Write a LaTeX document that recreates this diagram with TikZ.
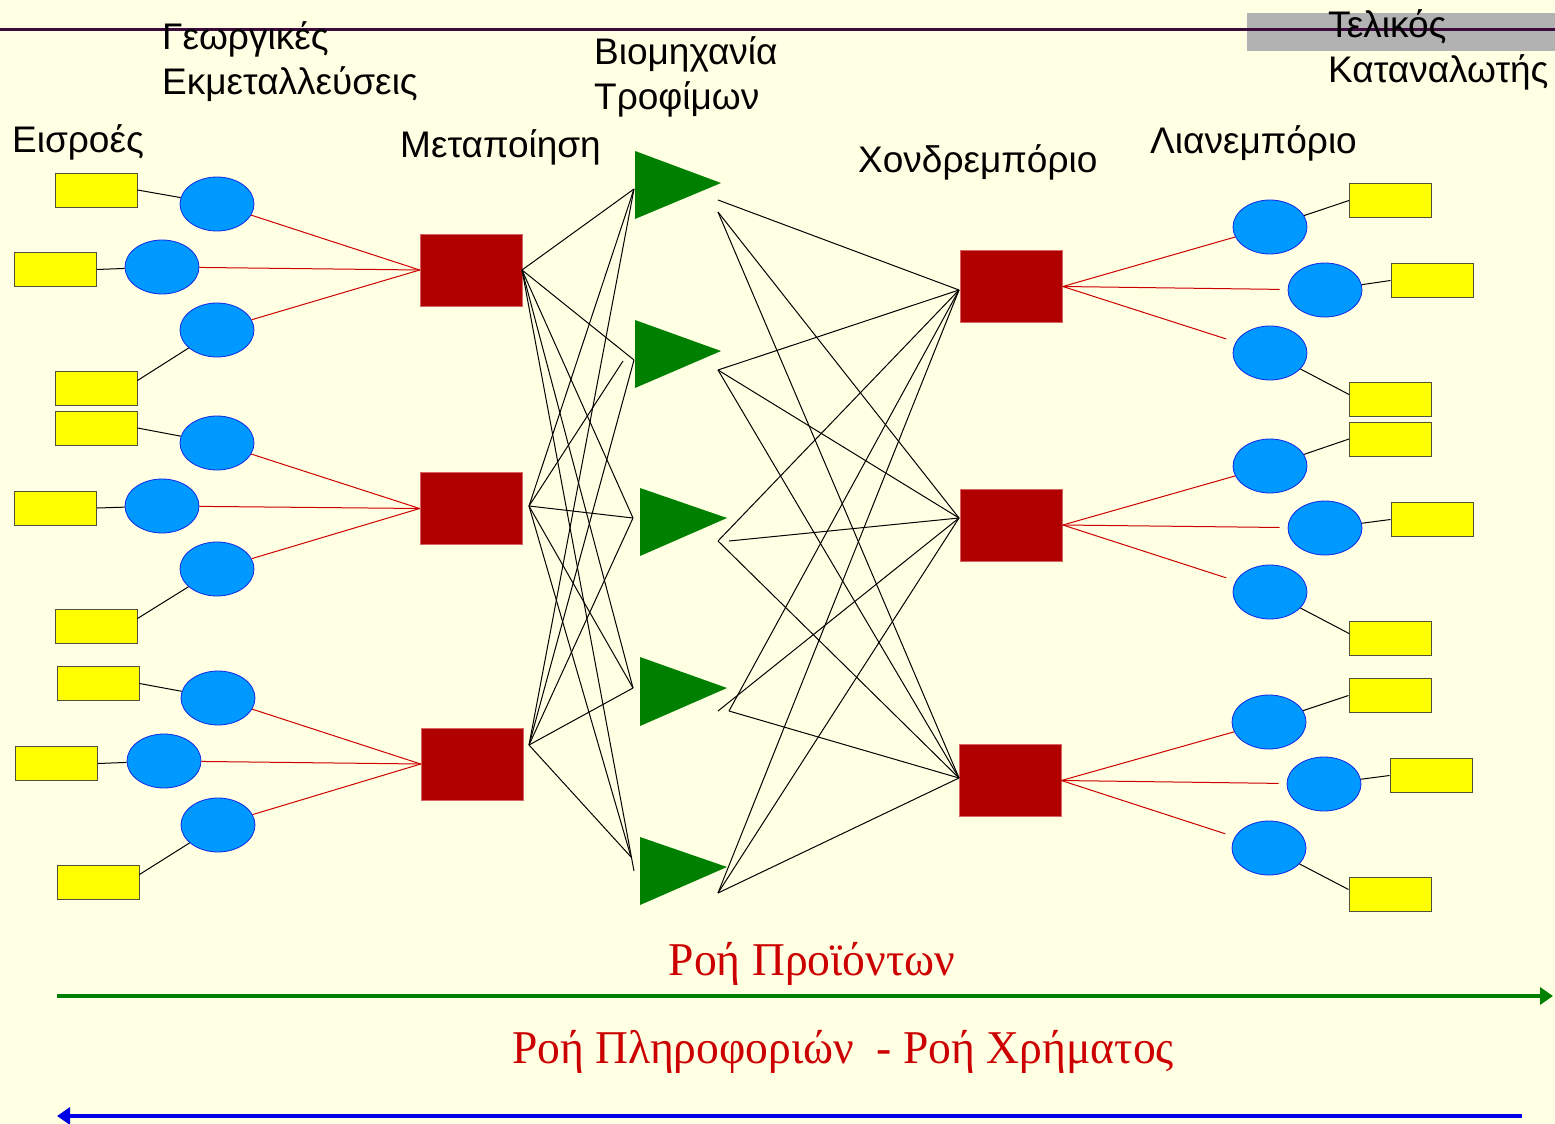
\documentclass[tikz,border=0pt]{standalone}
\usepackage{fontspec}
\setmainfont{Liberation Sans}
\newfontfamily\flowfont{Liberation Serif}
\usetikzlibrary{shapes.geometric,arrows.meta}

\definecolor{paper}{RGB}{255,255,227}
\definecolor{boxyellow}{RGB}{255,255,0}
\definecolor{boxedge}{RGB}{80,80,60}
\definecolor{orb}{RGB}{0,153,255}
\definecolor{orbedge}{RGB}{20,40,230}
\definecolor{plant}{RGB}{176,0,0}
\definecolor{plantedge}{RGB}{214,100,100}
\definecolor{tri}{RGB}{0,128,0}
\definecolor{redline}{RGB}{204,0,0}
\definecolor{rulecol}{RGB}{60,10,60}
\definecolor{tag}{RGB}{178,178,178}
\definecolor{flowred}{RGB}{204,0,0}
\definecolor{flowgreen}{RGB}{0,128,0}
\definecolor{flowblue}{RGB}{0,0,230}

\tikzset{
  farm/.style={rectangle, draw=boxedge, fill=boxyellow, line width=1pt,
    minimum width=82pt, minimum height=34pt, inner sep=0pt},
  hub/.style={ellipse, draw=orbedge, fill=orb, line width=0.8pt,
    minimum width=74pt, minimum height=54pt, inner sep=0pt},
  plantbox/.style={rectangle, fill=plant, draw=plantedge, line width=0.6pt,
    minimum width=102pt, minimum height=72pt, inner sep=0pt},
  greentri/.style={fill=tri},
  feed/.style={draw=redline, line width=1pt},
  link/.style={draw=black, line width=1pt},
  stage/.style={font=\fontsize{37}{41}\selectfont, anchor=base west, inner sep=0pt},
  flowtext/.style={font=\flowfont\fontsize{47}{50}\selectfont, text=flowred,
    anchor=base, inner sep=0pt, xscale=0.97},
  flowline/.style={line width=4pt},
}

\begin{document}
\begin{tikzpicture}[x=1pt, y=-1pt]
% page background
\fill[paper] (0,0) rectangle (1555,1124);
\useasboundingbox (0,0) rectangle (1555,1124);

% title strip
\fill[tag] (1247,13) rectangle (1555,51);
\draw[rulecol, line width=3pt] (0,30) -- (1555,30);

% stage headings
\node[stage] (h1a) at (162,50) {Γεωργικές};
\node[stage] (h1b) at (162,94) {Εκμεταλλεύσεις};
\node[stage] (h0)  at (12,152) {Εισροές};
\node[stage] (h2)  at (400,157) {Μεταποίηση};
\node[stage] (h3a) at (594,64) {Βιομηχανία};
\node[stage] (h3b) at (594,110) {Τροφίμων};
\node[stage] (h4)  at (858,172) {Χονδρεμπόριο};
\node[stage] (h5)  at (1150,153) {Λιανεμπόριο};
\node[stage] (h6a) at (1328,38) {Τελικός};
\node[stage] (h6b) at (1328,82) {Καταναλωτής};

% ---------- inputs, farms and processing plants ----------
\node[plantbox] (p1) at (471,270) {};
\node[plantbox] (p2) at (471,508.5) {};
\node[plantbox] (p3) at (472,764) {};

\node[farm] (a1) at (96,190) {};
\node[hub]  (e1) at (217,204) {};
\node[farm] (a2) at (55.5,269.5) {};
\node[hub]  (e2) at (162,267) {};
\node[hub]  (e3) at (217,330) {};
\node[farm] (a3) at (96,388.5) {};

\node[farm] (a4) at (96,428) {};
\node[hub]  (e4) at (217,443) {};
\node[farm] (a5) at (55.5,508) {};
\node[hub]  (e5) at (162,506) {};
\node[hub]  (e6) at (217,569) {};
\node[farm] (a6) at (96,626.5) {};

\node[farm] (a7) at (98,683.5) {};
\node[hub]  (e7) at (218,698) {};
\node[farm] (a8) at (56.5,763.5) {};
\node[hub]  (e8) at (164,761) {};
\node[hub]  (e9) at (218,825) {};
\node[farm] (a9) at (98,882.5) {};

\foreach \a/\e in {a1/e1,a2/e2,a4/e4,a5/e5,a7/e7,a8/e8}
  \draw[link] (\a.east) -- (\e);
\foreach \a/\e in {a3/e3,a6/e6,a9/e9}
  \draw[link] ([yshift=8pt]\a.east) -- (\e);

\foreach \e/\p in {e1/p1,e2/p1,e3/p1,e4/p2,e5/p2,e6/p2,e7/p3,e8/p3,e9/p3}
  \draw[feed] (\e) -- (\p.west);

% ---------- food industry ----------
\fill[greentri] (635,151) -- (721,183) -- (635,219) -- cycle;
\fill[greentri] (635,320) -- (721,351) -- (635,388) -- cycle;
\fill[greentri] (640,488) -- (727,518) -- (640,556) -- cycle;
\fill[greentri] (640,657) -- (727,688) -- (640,726) -- cycle;
\fill[greentri] (640,837) -- (727,867) -- (640,905) -- cycle;

% ports of the plants and of the industry
\coordinate (p1o) at (522,270);
\coordinate (p2o) at (529,506);
\coordinate (p3o) at (529,745);
\coordinate (t1i) at (634,189);
\coordinate (t2i) at (634,360);
\coordinate (t2j) at (623,361);
\coordinate (t3i) at (633,518);
\coordinate (t4i) at (633,688);
\coordinate (t5i) at (631,857);
\coordinate (t5j) at (634,871);

\coordinate (t1o) at (718,200);
\coordinate (t1p) at (718,212);
\coordinate (t2o) at (718,370);
\coordinate (t3o) at (718,541);
\coordinate (t3p) at (729,541);
\coordinate (t4o) at (718,711);
\coordinate (t4p) at (729,711);
\coordinate (t5o) at (718,893);

% plants to industry
\foreach \s/\t in {p1o/t1i,p1o/t2i,p1o/t3i,p1o/t4i,p1o/t5j,
                   p2o/t1i,p2o/t2j,p2o/t3i,p2o/t4i,p2o/t5i,
                   p3o/t1i,p3o/t2i,p3o/t3i,p3o/t4i,p3o/t5i}
  \draw[link] (\s) -- (\t);

% ---------- wholesale ----------
\node[plantbox] (w1) at (1011.5,286.5) {};
\node[plantbox] (w2) at (1011.5,525) {};
\node[plantbox] (w3) at (1010,780.5) {};
\coordinate (w1i) at (959,290);
\coordinate (w2i) at (959,518);
\coordinate (w3i) at (959,778);

\foreach \s/\t in {t1o/w1i,t1p/w2i,t1p/w3i,
                   t2o/w1i,t2o/w2i,t2o/w3i,
                   t3o/w1i,t3p/w2i,t3o/w3i,
                   t4p/w1i,t4o/w2i,t4p/w3i,
                   t5o/w1i,t5o/w2i,t5o/w3i}
  \draw[link] (\s) -- (\t);

% ---------- retail and final consumers ----------
\node[hub]  (r1) at (1270,227) {};
\node[hub]  (r2) at (1325,290) {};
\node[hub]  (r3) at (1270,353) {};
\node[farm] (c1) at (1390.5,200.5) {};
\node[farm] (c2) at (1432,280.5) {};
\node[farm] (c3) at (1390.5,399.5) {};

\node[hub]  (r4) at (1270,466) {};
\node[hub]  (r5) at (1325,528) {};
\node[hub]  (r6) at (1270,592) {};
\node[farm] (c4) at (1390.5,439) {};
\node[farm] (c5) at (1432,519.5) {};
\node[farm] (c6) at (1390.5,638.5) {};

\node[hub]  (r7) at (1269,722) {};
\node[hub]  (r8) at (1324,784) {};
\node[hub]  (r9) at (1269,848) {};
\node[farm] (c7) at (1390,695.5) {};
\node[farm] (c8) at (1431,775.5) {};
\node[farm] (c9) at (1390,894.5) {};

\foreach \w/\ra/\rb/\rc in {w1/r1/r2/r3, w2/r4/r5/r6, w3/r7/r8/r9}{
  \draw[feed] (\w.east) -- (\ra);
  \draw[feed, shorten >=8pt] (\w.east) -- (\rb);
  \draw[feed, shorten >=10pt] (\w.east) -- (\rc);
}
\foreach \c/\r in {c1/r1,c2/r2,c4/r4,c5/r5,c7/r7,c8/r8}
  \draw[link] (\c.west) -- (\r);
\foreach \c/\r in {c3/r3,c6/r6,c9/r9}
  \draw[link] ([yshift=5pt]\c.west) -- (\r);

% ---------- flows ----------
\node[flowtext] (prod) at (812,975) {Ροή Προϊόντων};
\node[flowtext] (info) at (843,1063) {Ροή Πληροφοριών\ \ - Ροή Χρήματος};

\coordinate (gs) at (57,996);
\coordinate (ge) at (1553,996);
\coordinate (bs) at (1522,1116);
\coordinate (be) at (57,1116);
\draw[flowgreen, flowline, -{Triangle[length=13pt,width=17pt]}] (gs) -- (ge);
\draw[flowblue, flowline, -{Triangle[length=13pt,width=17pt]}] (bs) -- (be);
\end{tikzpicture}
\end{document}
